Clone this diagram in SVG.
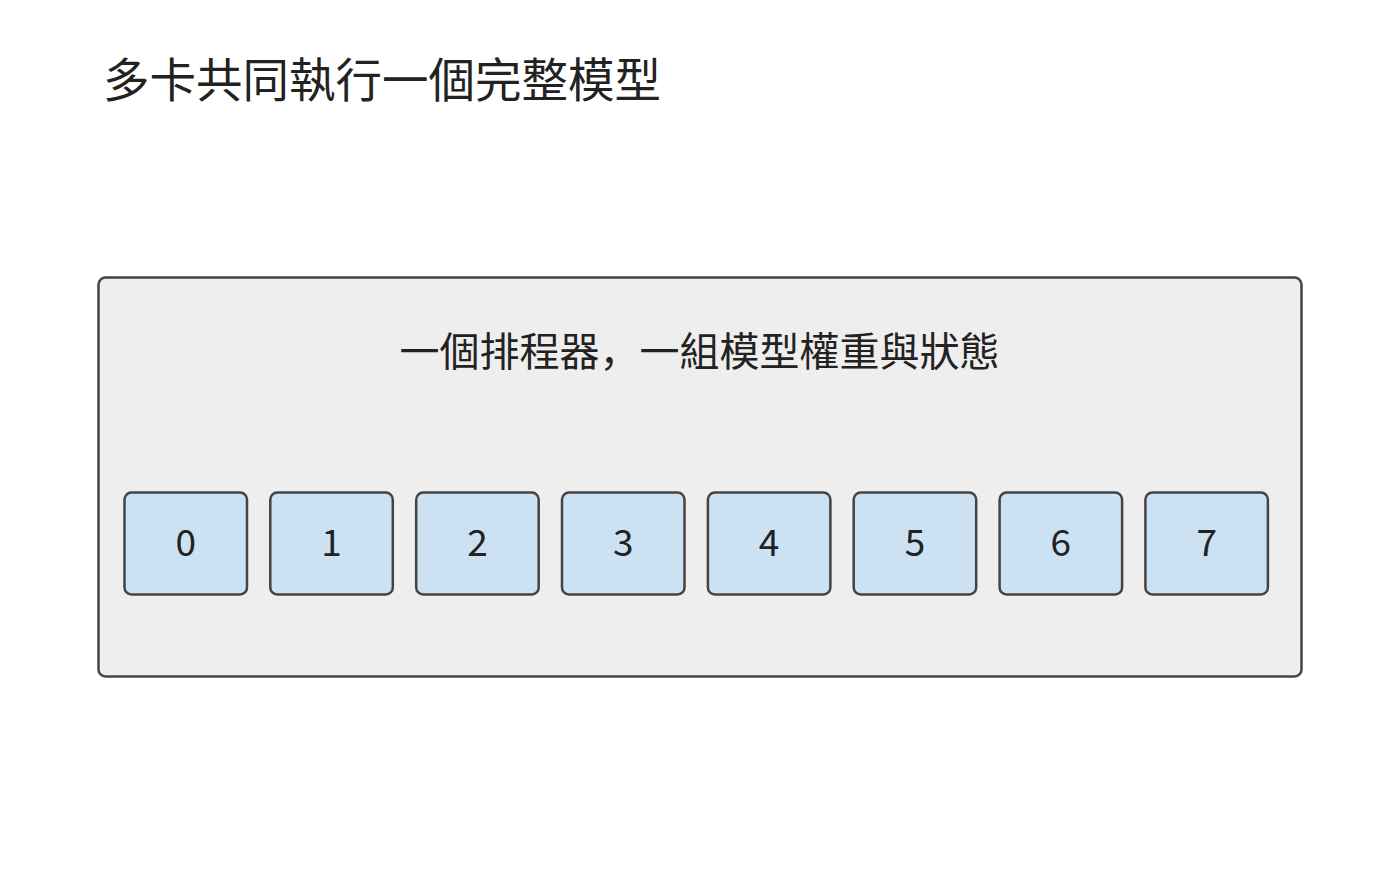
<svg xmlns="http://www.w3.org/2000/svg" width="1400" height="888" viewBox="0 0 1400 888">
<style>
.t{font-family:"Noto Sans CJK SC","Noto Sans CJK TC","Noto Sans","Liberation Sans",sans-serif;fill:#222222}
.card{fill:#cce2f2;stroke:#444444;stroke-width:2.5}
.num{font-family:"Noto Sans CJK SC","Noto Sans","Liberation Sans",sans-serif;font-size:37px;fill:#222222;text-anchor:middle}
</style>
<rect width="1400" height="888" fill="#ffffff"/>
<text class="t" x="103" y="97" font-size="46.5">多卡共同執行一個完整模型</text>
<g id="container">
<rect x="98.5" y="277.5" width="1203" height="399" rx="7" fill="#eeeeee" stroke="#444444" stroke-width="2.5"/>
<text class="t" x="699.5" y="366" font-size="40" text-anchor="middle">一個排程器，一組模型權重與狀態</text>
</g>
<g id="connectors"></g>
<g id="gpu0"><rect class="card" x="124.5" y="492.5" width="122.5" height="102" rx="7"/><text class="num" x="185.75" y="556">0</text></g>
<g id="gpu1"><rect class="card" x="270.3" y="492.5" width="122.5" height="102" rx="7"/><text class="num" x="331.6" y="556">1</text></g>
<g id="gpu2"><rect class="card" x="416.2" y="492.5" width="122.5" height="102" rx="7"/><text class="num" x="477.4" y="556">2</text></g>
<g id="gpu3"><rect class="card" x="562" y="492.5" width="122.5" height="102" rx="7"/><text class="num" x="623.3" y="556">3</text></g>
<g id="gpu4"><rect class="card" x="707.9" y="492.5" width="122.5" height="102" rx="7"/><text class="num" x="769.1" y="556">4</text></g>
<g id="gpu5"><rect class="card" x="853.7" y="492.5" width="122.5" height="102" rx="7"/><text class="num" x="915" y="556">5</text></g>
<g id="gpu6"><rect class="card" x="999.6" y="492.5" width="122.5" height="102" rx="7"/><text class="num" x="1060.8" y="556">6</text></g>
<g id="gpu7"><rect class="card" x="1145.4" y="492.5" width="122.5" height="102" rx="7"/><text class="num" x="1206.7" y="556">7</text></g>
</svg>
